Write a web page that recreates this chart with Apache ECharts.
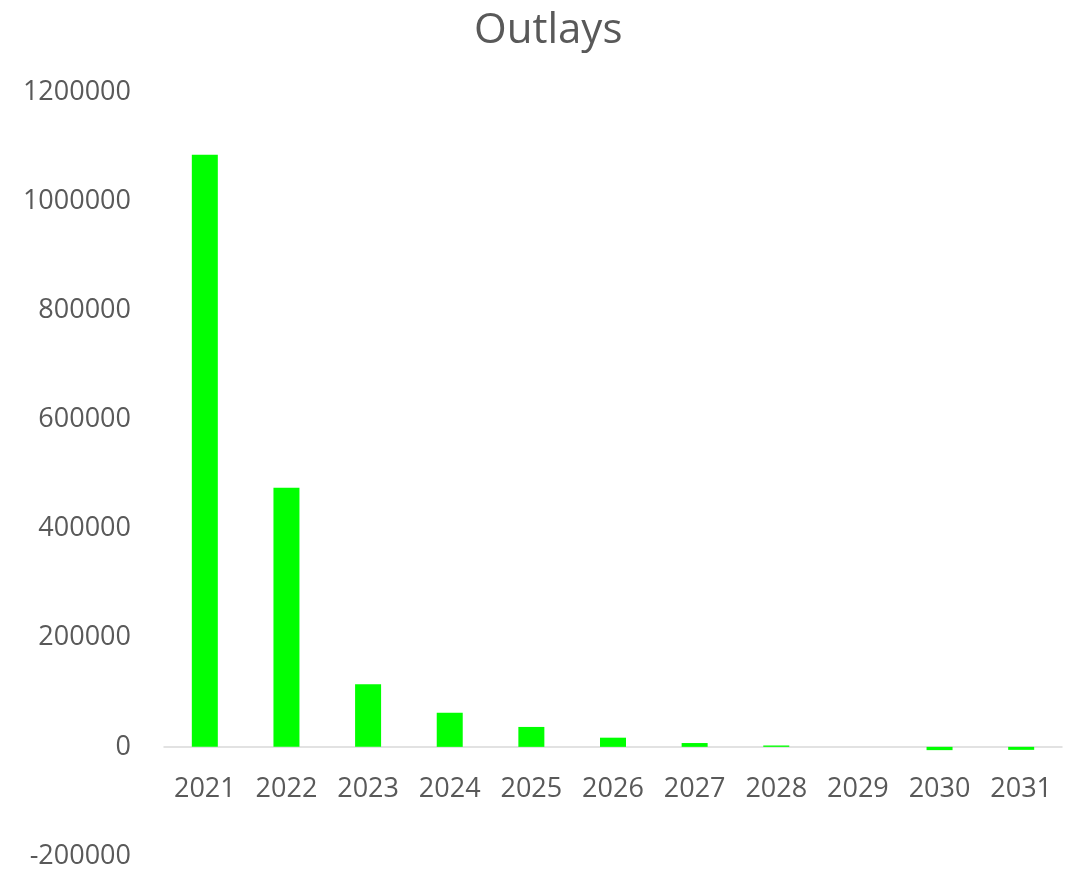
<!DOCTYPE html>
<html>
<head>
<meta charset="utf-8">
<title>Outlays</title>
<script src="https://cdn.jsdelivr.net/npm/echarts@6/dist/echarts.min.js"></script>
<style>
  html, body { margin: 0; padding: 0; background: #fff; }
  #chart { width: 1076px; height: 870px; }
</style>
</head>
<body>
<div id="chart"></div>
<script>
// Outlays by fiscal year
const years = ['2021', '2022', '2023', '2024', '2025', '2026', '2027', '2028', '2029', '2030', '2031'];
const outlays = [1085000, 475000, 114500, 62500, 36500, 16800, 7000, 2500, 0, -6000, -5500];
const yTicks = { min: -200000, max: 1200000, step: 200000 };

const textColor = '#595959';
const fontFamily = '"Open Sans", "Liberation Sans", sans-serif';

const gridBox = { left: 164, right: 14, top: 92, bottom: 14 };
const plotHeight = 870 - gridBox.top - gridBox.bottom;
// Category axis sits on the zero line: shift it up from the grid bottom
const zeroOffset = plotHeight * (0 - yTicks.min) / (yTicks.max - yTicks.min);

const chart = echarts.init(document.getElementById('chart'), null, { renderer: 'canvas' });
chart.setOption({
  backgroundColor: '#ffffff',
  animation: false,
  title: {
    text: 'Outlays',
    left: 469,
    top: 5,
    textStyle: { color: textColor, fontFamily: fontFamily, fontSize: 42, fontWeight: 'normal' }
  },
  grid: Object.assign({ containLabel: false, outerBoundsMode: 'none' }, gridBox),
  xAxis: {
    type: 'category',
    data: years,
    position: 'bottom',
    offset: -zeroOffset,
    axisLine: { onZero: false, lineStyle: { color: '#d9d9d9', width: 1.5 } },
    axisTick: { show: false },
    axisLabel: { color: textColor, fontFamily: fontFamily, fontSize: 27, margin: 29 }
  },
  yAxis: {
    type: 'value',
    min: yTicks.min,
    max: yTicks.max,
    interval: yTicks.step,
    axisLine: { show: false },
    axisTick: { show: false },
    splitLine: { show: false },
    axisLabel: {
      color: textColor, fontFamily: fontFamily, fontSize: 27, margin: 33,
      formatter: (v) => String(v)
    }
  },
  series: [{
    type: 'bar',
    data: outlays,
    barWidth: 26,
    itemStyle: { color: '#00ff00' }
  }]
});
</script>
</body>
</html>
